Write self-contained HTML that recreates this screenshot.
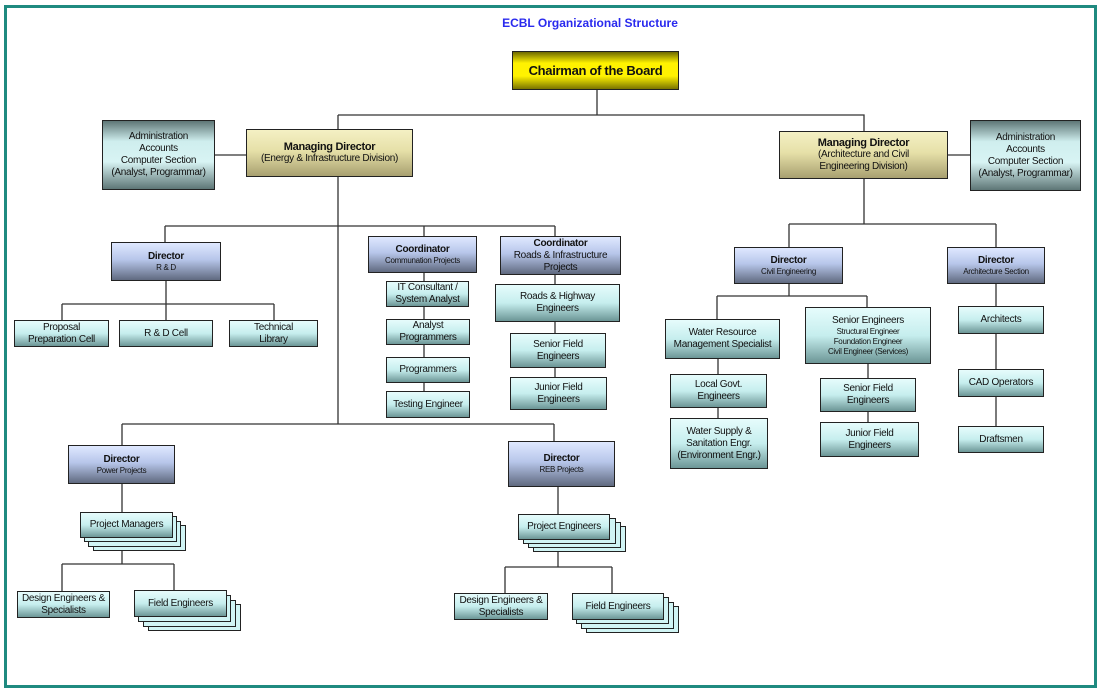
<!DOCTYPE html>
<html><head><meta charset="utf-8"><style>
body{margin:0;width:1100px;height:691px;background:#fff;position:relative;overflow:hidden;font-family:"Liberation Sans",sans-serif;}
.frame{position:absolute;left:4px;top:5px;width:1087px;height:677px;border:3px solid #1f8a80;}
.b{position:absolute;box-sizing:border-box;border:1.5px solid #222;display:flex;flex-direction:column;align-items:center;justify-content:center;text-align:center;font-size:10px;line-height:12px;color:#111;letter-spacing:-0.3px;}
.y{background:linear-gradient(#6e6a00,#fff200 30%,#fff200 65%,#7a7400);font-weight:bold;font-size:13px;}
.m{background:linear-gradient(#f4f0c4,#e6e0a8 45%,#a8a070);}
.a{background:linear-gradient(#5e7676,#cfeeee 30%,#d8f4f4 60%,#5e7676);}
.d{background:linear-gradient(#dfe8ff,#b7c6ea 45%,#606a80);}
.c{background:linear-gradient(#e6fcfc,#c6eeee 50%,#6c9696);}
.s{position:absolute;box-sizing:border-box;border:1.5px solid #222;background:#d0f4f4;}
b{font-weight:bold;}
.sm{font-size:8px;line-height:10px;}
svg{position:absolute;left:0;top:0;}
</style></head><body>
<div class="frame"></div>
<div style="position:absolute;left:0;width:1180px;top:16px;text-align:center;font-weight:bold;font-size:12px;color:#2a2aee;">ECBL Organizational Structure</div>
<svg width="1100" height="691"><g stroke="#333" stroke-width="1.3" fill="none">
<path d="M597 90V115M338 115H864V131M338 115V129"/>
<path d="M215 155H246M948 155H970"/>
<path d="M338 177V424M165 226H555M165 226V242M424 226V236M555 226V236"/>
<path d="M166 281V304M62 304H274M62 304V320M166 304V320M274 304V320"/>
<path d="M424 273V391M555 275V377"/>
<path d="M122 424H554M122 424V445M554 424V441"/>
<path d="M122 484V512M122 538V564M62 564H174M62 564V591M174 564V590"/>
<path d="M558 487V514M558 540V567M505 567H612M505 567V593M612 567V593"/>
<path d="M864 179V224M789 224H996M789 224V247M996 224V247"/>
<path d="M789 284V296M717 296H867M717 296V319M867 296V307"/>
<path d="M718 359V418M868 364V422M996 284V426"/>
</g></svg>
<div class="b y" style="left:512px;top:51px;width:167px;height:39px;">Chairman of the Board</div>
<div class="b a" style="left:102px;top:120px;width:113px;height:70px;">Administration<br>Accounts<br>Computer Section<br>(Analyst, Programmar)</div>
<div class="b m" style="left:246px;top:129px;width:167px;height:48px;"><b style="font-size:11px">Managing Director</b>(Energy &amp; Infrastructure Division)</div>
<div class="b m" style="left:779px;top:131px;width:169px;height:48px;"><b style="font-size:11px">Managing Director</b>(Architecture and Civil<br>Engineering Division)</div>
<div class="b a" style="left:970px;top:120px;width:111px;height:71px;">Administration<br>Accounts<br>Computer Section<br>(Analyst, Programmar)</div>

<div class="b d" style="left:111px;top:242px;width:110px;height:39px;"><b>Director</b><span class="sm">R &amp; D</span></div>
<div class="b c" style="left:14px;top:320px;width:95px;height:27px;">Proposal<br>Preparation Cell</div>
<div class="b c" style="left:119px;top:320px;width:94px;height:27px;">R &amp; D Cell</div>
<div class="b c" style="left:229px;top:320px;width:89px;height:27px;">Technical<br>Library</div>

<div class="b d" style="left:368px;top:236px;width:109px;height:37px;"><b>Coordinator</b><span class="sm">Communation Projects</span></div>
<div class="b c" style="left:386px;top:281px;width:83px;height:26px;">IT Consultant /<br>System Analyst</div>
<div class="b c" style="left:386px;top:319px;width:84px;height:26px;">Analyst<br>Programmers</div>
<div class="b c" style="left:386px;top:357px;width:84px;height:26px;">Programmers</div>
<div class="b c" style="left:386px;top:391px;width:84px;height:27px;">Testing Engineer</div>

<div class="b d" style="left:500px;top:236px;width:121px;height:39px;"><b>Coordinator</b>Roads &amp; Infrastructure<br>Projects</div>
<div class="b c" style="left:495px;top:284px;width:125px;height:38px;">Roads &amp; Highway<br>Engineers</div>
<div class="b c" style="left:510px;top:333px;width:96px;height:35px;">Senior Field<br>Engineers</div>
<div class="b c" style="left:510px;top:377px;width:97px;height:33px;">Junior Field<br>Engineers</div>

<div class="b d" style="left:734px;top:247px;width:109px;height:37px;"><b>Director</b><span class="sm">Civil Engineering</span></div>
<div class="b d" style="left:947px;top:247px;width:98px;height:37px;"><b>Director</b><span class="sm">Architecture Section</span></div>
<div class="b c" style="left:665px;top:319px;width:115px;height:40px;">Water Resource<br>Management Specialist</div>
<div class="b c" style="left:670px;top:374px;width:97px;height:34px;">Local Govt.<br>Engineers</div>
<div class="b c" style="left:670px;top:418px;width:98px;height:51px;">Water Supply &amp;<br>Sanitation Engr.<br>(Environment Engr.)</div>
<div class="b c" style="left:805px;top:307px;width:126px;height:57px;">Senior Engineers<span class="sm">Structural Engineer<br>Foundation Engineer<br>Civil Engineer (Services)</span></div>
<div class="b c" style="left:820px;top:378px;width:96px;height:34px;">Senior Field<br>Engineers</div>
<div class="b c" style="left:820px;top:422px;width:99px;height:35px;">Junior Field<br>Engineers</div>
<div class="b c" style="left:958px;top:306px;width:86px;height:28px;">Architects</div>
<div class="b c" style="left:958px;top:369px;width:86px;height:28px;">CAD Operators</div>
<div class="b c" style="left:958px;top:426px;width:86px;height:27px;">Draftsmen</div>

<div class="b d" style="left:68px;top:445px;width:107px;height:39px;"><b>Director</b><span class="sm">Power Projects</span></div>
<div class="b d" style="left:508px;top:441px;width:107px;height:46px;"><b>Director</b><span class="sm">REB Projects</span></div>

<div class="s" style="left:93px;top:525px;width:93px;height:26px;"></div>
<div class="s" style="left:88px;top:521px;width:93px;height:26px;"></div>
<div class="s" style="left:84px;top:516px;width:93px;height:26px;"></div>
<div class="b c" style="left:80px;top:512px;width:93px;height:26px;">Project Managers</div>
<div class="b c" style="left:17px;top:591px;width:93px;height:27px;">Design Engineers &amp;<br>Specialists</div>
<div class="s" style="left:148px;top:604px;width:93px;height:27px;"></div>
<div class="s" style="left:143px;top:600px;width:93px;height:27px;"></div>
<div class="s" style="left:138px;top:595px;width:93px;height:27px;"></div>
<div class="b c" style="left:134px;top:590px;width:93px;height:27px;">Field Engineers</div>

<div class="s" style="left:533px;top:526px;width:93px;height:26px;"></div>
<div class="s" style="left:528px;top:522px;width:93px;height:26px;"></div>
<div class="s" style="left:523px;top:518px;width:93px;height:26px;"></div>
<div class="b c" style="left:518px;top:514px;width:92px;height:26px;">Project Engineers</div>
<div class="b c" style="left:454px;top:593px;width:94px;height:27px;">Design Engineers &amp;<br>Specialists</div>
<div class="s" style="left:586px;top:606px;width:93px;height:27px;"></div>
<div class="s" style="left:581px;top:602px;width:93px;height:27px;"></div>
<div class="s" style="left:576px;top:597px;width:93px;height:27px;"></div>
<div class="b c" style="left:572px;top:593px;width:92px;height:27px;">Field Engineers</div>
</body></html>
